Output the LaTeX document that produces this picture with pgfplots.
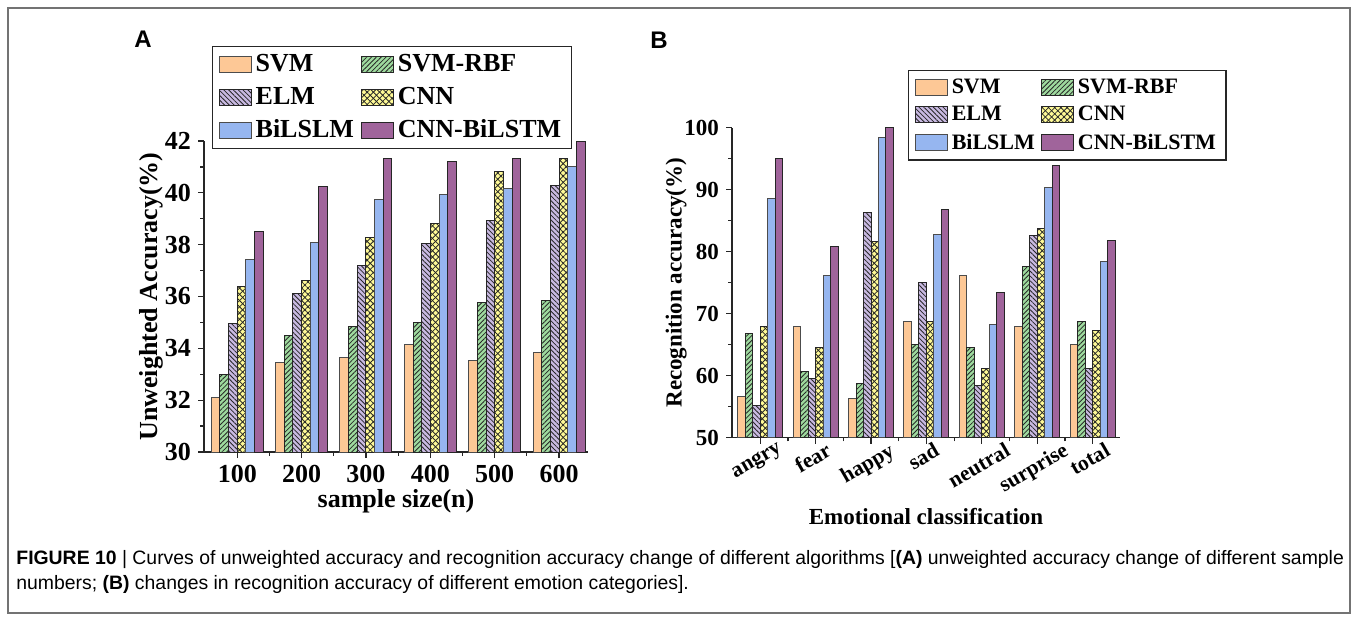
\documentclass[border=0pt]{standalone}
\usepackage{pgfplots}
\pgfplotsset{compat=1.18}
\usepackage{pgfplotstable}
\usepackage{fontspec}
\setmainfont{Liberation Serif}
\newfontfamily\capfont{Liberation Sans}
\usetikzlibrary{patterns.meta}

\definecolor{svmc}{RGB}{253,200,150}
\definecolor{rbfc}{RGB}{158,218,158}
\definecolor{elmc}{RGB}{200,185,225}
\definecolor{cnnc}{RGB}{255,250,150}
\definecolor{bilc}{RGB}{150,182,240}
\definecolor{cblc}{RGB}{160,100,155}

% sample size -> unweighted accuracy
\pgfplotstableread{
x svm rbf elm cnn bil cbl
1 32.12 32.98 34.95 36.38 37.43 38.52
2 33.47 34.50 36.10 36.63 38.10 40.24
3 33.66 34.86 37.21 38.26 39.75 41.32
4 34.14 34.98 38.05 38.83 39.92 41.20
5 33.54 35.78 38.92 40.83 40.16 41.32
6 33.84 35.86 40.28 41.32 41.00 42.00
}\dataA

% emotion -> recognition accuracy
\pgfplotstableread{
x svm rbf elm cnn bil cbl
1 56.7 66.8 55.2 67.9 88.6 95.0
2 67.9 60.6 59.5 64.5 76.2 80.9
3 56.4 58.7 86.4 81.7 98.4 100
4 68.7 65.1 75.1 68.7 82.8 86.8
5 76.2 64.5 58.4 61.1 68.2 73.4
6 67.9 77.6 82.6 83.7 90.3 93.9
7 65.1 68.7 61.2 67.3 78.4 81.8
}\dataB

\pgfplotsset{
  bars/.style={
    scale only axis,
    axis x line*=bottom, axis y line*=left,
    axis line style={black!85, line width=0.6pt},
    tick style={black!85, line width=0.6pt},
    tick align=outside,
    major tick length=3pt, minor tick length=1.8pt,
    ybar=0pt,
    /pgf/number format/assume math mode=true,
    legend columns=2,
    legend cell align=left,
    legend image code/.code={\draw[##1] (0pt,-4pt) rectangle (16pt,4pt);},
  },
  b1/.style={fill=svmc, draw=black!70, line width=0.5pt},
  b2/.style={fill=rbfc, draw=black!85, line width=0.5pt,
    postaction={pattern={Lines[angle=45,distance=1.7pt,line width=0.4pt]}, pattern color=black!85}},
  b3/.style={fill=elmc, draw=black!85, line width=0.5pt,
    postaction={pattern={Lines[angle=-45,distance=1.7pt,line width=0.4pt]}, pattern color=black!85}},
  b4/.style={fill=cnnc, draw=black!85, line width=0.5pt,
    postaction={pattern={Lines[angle=45,distance=2.2pt,line width=0.4pt]}, pattern color=black!85},
    postaction={pattern={Lines[angle=-45,distance=2.2pt,line width=0.4pt]}, pattern color=black!85}},
  b5/.style={fill=bilc, draw=black!70, line width=0.5pt},
  b6/.style={fill=cblc, draw=black!85, line width=0.5pt},
}

\begin{document}
\begin{tikzpicture}
\path (0,0) rectangle (679pt,-310.5pt);
\draw[black!55, line width=0.8pt] (4pt,-4pt) rectangle (675pt,-306.5pt);

\node[font=\capfont\bfseries\fontsize{12}{12}\selectfont] at (71.5pt,-19.8pt) {A};
\node[font=\capfont\bfseries\fontsize{12}{12}\selectfont] at (329.5pt,-20pt) {B};

\begin{axis}[bars,
    at={(102pt,-226pt)}, anchor=south west,
    width=192pt, height=155.5pt,
    font=\bfseries\fontsize{13}{15}\selectfont,
    xmin=0.483, xmax=6.45,
    ymin=30, ymax=42,
    ytick={30,32,...,42},
    minor y tick num=1,
    xtick={1,...,6},
    xticklabels={100,200,300,400,500,600},
    minor x tick num=1,
    bar width=0.1347,
    xlabel={sample size(n)},
    ylabel={Unweighted Accuracy(\%)},
    xlabel shift=-3.5pt,
    ylabel shift=-6pt,
    legend style={at={(0.021,1.306)}, anchor=north west,
      draw=black!85, line width=0.6pt,
      font=\bfseries\fontsize{13}{15}\selectfont,
      row sep=2.2pt,
      /tikz/every even column/.append style={column sep=1.5pt}},
]
\addplot[b1] table[x=x,y=svm] {\dataA};
\addplot[b2] table[x=x,y=rbf] {\dataA};
\addplot[b3] table[x=x,y=elm] {\dataA};
\addplot[b4] table[x=x,y=cnn] {\dataA};
\addplot[b5] table[x=x,y=bil] {\dataA};
\addplot[b6] table[x=x,y=cbl] {\dataA};
\legend{SVM,SVM-RBF,ELM,CNN,BiLSLM,CNN-BiLSTM}
\end{axis}

\begin{axis}[bars,
    at={(366pt,-218.85pt)}, anchor=south west,
    width=194pt, height=155pt,
    font=\bfseries\fontsize{11.5}{13}\selectfont,
    xmin=0.49, xmax=7.495,
    ymin=50, ymax=100,
    ytick={50,60,...,100},
    minor y tick num=1,
    xtick={1,...,7},
    xticklabels={\rotatebox{30}{angry},\rotatebox{30}{fear},\rotatebox{30}{happy},\rotatebox{30}{sad},\rotatebox{30}{neutral},\rotatebox{30}{surprise},\rotatebox{30}{total}},
    xticklabel style={font=\bfseries\fontsize{10.8}{12}\selectfont, yshift=4.5pt, xshift=-1.5pt},
    minor x tick num=1,
    bar width=0.135,
    xlabel={Emotional classification},
    ylabel={Recognition accuracy(\%)},
    xlabel shift=-0.8pt,
    ylabel shift=-8pt,
    legend style={at={(0.454,1.186)}, anchor=north west,
      draw=black!85, line width=0.6pt,
      font=\bfseries\fontsize{11}{13}\selectfont,
      row sep=1pt,
      /tikz/every even column/.append style={column sep=1pt}},
]
\addplot[b1] table[x=x,y=svm] {\dataB};
\addplot[b2] table[x=x,y=rbf] {\dataB};
\addplot[b3] table[x=x,y=elm] {\dataB};
\addplot[b4] table[x=x,y=cnn] {\dataB};
\addplot[b5] table[x=x,y=bil] {\dataB};
\addplot[b6] table[x=x,y=cbl] {\dataB};
\legend{SVM,SVM-RBF,ELM,CNN,BiLSLM,CNN-BiLSTM}
\end{axis}

\node[anchor=base west, inner sep=0pt, font=\capfont\fontsize{9.7}{11}\selectfont] at (8pt,-282pt)
  {\textbf{FIGURE 10} | Curves of unweighted accuracy and recognition accuracy change of different algorithms [\textbf{(A)} unweighted accuracy change of different sample};
\node[anchor=base west, inner sep=0pt, font=\capfont\fontsize{9.7}{11}\selectfont] at (8pt,-294.5pt)
  {numbers; \textbf{(B)} changes in recognition accuracy of different emotion categories].};
\end{tikzpicture}
\end{document}
